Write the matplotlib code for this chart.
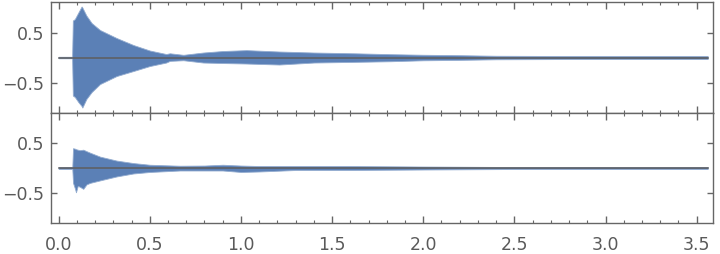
import numpy as np
import matplotlib
matplotlib.use("Agg")
import matplotlib.pyplot as plt
from matplotlib.ticker import MultipleLocator

# envelope of the first channel (seconds, amplitude)
t_top = [0.0, 0.074, 0.078, 0.089, 0.108, 0.126, 0.13, 0.152, 0.181, 0.227, 0.318,
         0.41, 0.50, 0.59, 0.61, 0.684, 0.793, 0.9, 1.03, 1.21, 1.40, 1.62,
         1.82, 2.0, 2.2, 2.4, 2.8, 3.2, 3.56]
upper_top = [0.015, 0.015, 0.74, 0.77, 0.90, 1.02, 1.0, 0.84, 0.69, 0.55, 0.39,
             0.25, 0.14, 0.07, 0.085, 0.054, 0.10, 0.13, 0.148, 0.12, 0.10, 0.085,
             0.067, 0.055, 0.047, 0.035, 0.03, 0.03, 0.03]
lower_top = [-0.015, -0.015, -0.76, -0.79, -0.89, -0.97, -1.0, -0.83, -0.69, -0.53, -0.37,
             -0.27, -0.17, -0.10, -0.067, -0.054, -0.10, -0.11, -0.12, -0.14, -0.10, -0.087,
             -0.074, -0.055, -0.047, -0.035, -0.03, -0.03, -0.03]

# envelope of the second channel
t_bot = [0.0, 0.075, 0.079, 0.09, 0.095, 0.105, 0.117, 0.135, 0.153, 0.172, 0.227,
         0.318, 0.41, 0.50, 0.665, 0.8, 0.9, 1.0, 1.1, 1.3, 1.6, 2.0, 2.5, 3.0, 3.56]
upper_bot = [0.02, 0.02, 0.40, 0.39, 0.38, 0.37, 0.36, 0.37, 0.34, 0.31, 0.23,
             0.15, 0.10, 0.066, 0.046, 0.05, 0.066, 0.05, 0.04, 0.04, 0.04, 0.03, 0.02, 0.02, 0.02]
lower_bot = [-0.02, -0.02, -0.30, -0.42, -0.49, -0.36, -0.38, -0.42, -0.33, -0.30, -0.25,
             -0.17, -0.11, -0.08, -0.05, -0.05, -0.05, -0.08, -0.07, -0.04, -0.04, -0.03, -0.02, -0.02, -0.02]

t_start, t_end = 0.0, 3.56
x_ticks = [0.0, 0.5, 1.0, 1.5, 2.0, 2.5, 3.0, 3.5]
x_labels = ["0.0", "0.5", "1.0", "1.5", "2.0", "2.5", "3.0", "3.5"]
y_ticks = [-0.5, 0.5]
y_labels = ["\u22120.5", "0.5"]

FILL = "#5b80b6"
EDGE = "#93acd0"
AXIS = "#666666"

fig = plt.figure(figsize=(7.2, 2.54), dpi=100)
ax1 = fig.add_axes([0.0708, 0.555, 0.9194, 0.437])
ax2 = fig.add_axes([0.0708, 0.122, 0.9194, 0.433])

panels = [(ax1, t_top, upper_top, lower_top), (ax2, t_bot, upper_bot, lower_bot)]
for ax, t, up, lo in panels:
    ax.fill_between(t, lo, up, facecolor=FILL, edgecolor=EDGE, linewidth=0.6, zorder=2)
    ax.plot([t_start, t_end], [0, 0], color="#5e5e5e", linewidth=1.1, zorder=3)
    ax.set_xlim(-0.042, 3.589)
    ax.set_ylim(-1.11, 1.11)
    ax.set_xticks(x_ticks)
    ax.xaxis.set_minor_locator(MultipleLocator(0.1))
    ax.set_yticks(y_ticks)
    ax.set_yticklabels(y_labels)
    ax.tick_params(axis="both", which="both", direction="in", top=True, right=True,
                   colors=AXIS, labelcolor="#5a5a5a", labelsize=12.5)
    ax.tick_params(axis="x", which="major", length=5, width=1.0, pad=9)
    ax.tick_params(axis="x", which="minor", length=2.5, width=0.8)
    ax.tick_params(axis="y", which="major", length=4, width=1.0, pad=5)
    for s in ax.spines.values():
        s.set_color(AXIS)
        s.set_linewidth(1.0)

ax1.tick_params(axis="x", which="both", labelbottom=False)
ax2.set_xticklabels(x_labels)

fig.savefig("out.png", dpi=100)
